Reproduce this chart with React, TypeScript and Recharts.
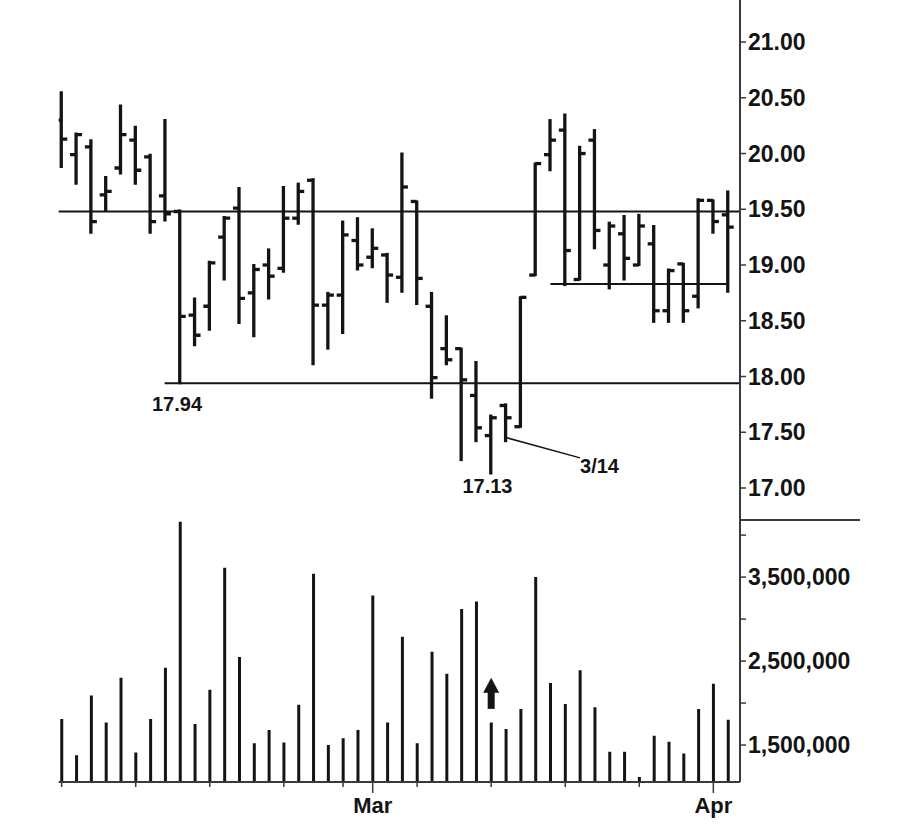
import React from "react";
import {
  ComposedChart,
  Bar,
  XAxis,
  YAxis,
  ReferenceLine,
  ReferenceDot,
} from "recharts";

// daily bars, Feb -> early Apr
const opens = [
  20.3, 19.99, 20.06, 19.63, 19.87, 20.12, 19.97, 19.62, 19.48, 18.55,
  18.63, 19.25, 19.51, 18.75, 19.0, 18.97, 19.42, 19.76, 18.64, 18.73,
  19.22, 19.07, 19.09, 18.89, 19.57, 18.63, 18.25, 18.25, 17.83, 17.47,
  17.74, 17.55, 18.91, 19.99, 20.21, 18.87, 20.12, 19.0, 19.28, 19.0,
  19.19, 18.59, 19.01, 18.72, 19.58, 19.45,
];
const highs = [
  20.55, 20.18, 20.12, 19.79, 20.43, 20.24, 19.99, 20.3, 19.49, 18.7,
  19.03, 19.43, 19.69, 19.0, 19.14, 19.7, 19.73, 19.77, 18.75, 19.39,
  19.42, 19.32, 19.1, 20.0, 19.57, 18.75, 18.54, 18.25, 18.13, 17.65,
  17.75, 18.71, 19.91, 20.3, 20.35, 20.06, 20.21, 19.38, 19.44, 19.45,
  19.35, 18.96, 19.01, 19.59, 19.58, 19.66,
];
const lows = [
  19.88, 19.73, 19.29, 19.49, 19.82, 19.73, 19.29, 19.4, 17.94, 18.28,
  18.42, 18.87, 18.48, 18.36, 18.7, 18.94, 19.37, 18.11, 18.25, 18.39,
  18.96, 18.98, 18.67, 18.76, 18.65, 17.81, 18.11, 17.25, 17.42, 17.13,
  17.42, 17.55, 18.91, 19.85, 18.82, 18.87, 19.15, 18.79, 18.87, 19.0,
  18.49, 18.49, 18.49, 18.62, 19.29, 18.76,
];
const closes = [
  20.13, 20.17, 19.39, 19.66, 20.17, 19.85, 19.39, 19.46, 18.54, 18.37,
  19.02, 19.42, 18.7, 18.96, 18.9, 19.42, 19.66, 18.64, 18.73, 19.27,
  19.0, 19.15, 18.91, 19.7, 18.88, 17.99, 18.15, 17.97, 17.54, 17.63,
  17.63, 18.71, 19.91, 20.12, 19.13, 20.0, 19.31, 19.35, 19.06, 19.35,
  18.59, 18.95, 18.59, 19.58, 19.39, 19.34,
];
const volumes = [
  1810000, 1380000, 2090000, 1770000, 2300000, 1410000, 1810000, 2420000, 4160000, 1750000,
  2160000, 3610000, 2550000, 1520000, 1680000, 1530000, 1980000, 3540000, 1500000, 1580000,
  1680000, 3280000, 1770000, 2790000, 1520000, 2610000, 2350000, 3120000, 3210000, 1770000,
  1690000, 1930000, 3500000, 2240000, 1990000, 2390000, 1950000, 1420000, 1420000, 1120000,
  1610000, 1540000, 1400000, 1930000, 2230000, 1800000,
];

const priceTicks = [17, 17.5, 18, 18.5, 19, 19.5, 20, 20.5, 21];
const volumeTicks = [1500000, 2000000, 2500000, 3000000, 3500000, 4000000];
const volumeLabelled = [1500000, 2500000, 3500000];
const weekTicks = [0, 5, 10, 15, 19, 21, 24, 29, 34, 39, 44];
const monthLabels: Record<number, string> = { 21: "Mar", 44: "Apr" };

const resistance = 19.48;
const support = { from: 6.95, value: 17.94 };
const rangeLow = { from: 33, to: 45, value: 18.83 };
const leader = { from: { x: 30.07, y: 17.45 }, to: { x: 35, y: 17.27 } };
const notes = [
  { text: "17.94", x: 7.79, y: 17.94 },
  { text: "17.13", x: 28.75, y: 17.13 },
];
const dateNote = { text: "3/14", x: 35, y: 17.27 };
const arrowAt = { x: 29, y: 2300000 };

const data = opens.map((o, i) => ({
  i,
  o,
  h: highs[i],
  l: lows[i],
  c: closes[i],
  v: volumes[i],
}));

const X_DOMAIN: [number, number] = [-0.2, 45.8];
const INK = "#141414";
const AXIS = "#3a3a3a";
const FONT = "'Liberation Sans', Arial, Helvetica, sans-serif";

function OhlcShape(props: any) {
  const { x, y, width, height, payload } = props;
  const top = Math.min(y, y + height);
  const h = Math.abs(height);
  const cx = x + width / 2;
  const span = payload.h - payload.l || 1;
  const yOf = (v: number) => top + ((payload.h - v) / span) * h;
  return (
    <g stroke={INK} strokeWidth={3.3}>
      <line x1={cx} x2={cx} y1={top - 1} y2={top + h + 1} />
      <line x1={cx - 6} x2={cx} y1={yOf(payload.o)} y2={yOf(payload.o)} />
      <line x1={cx} x2={cx + 6} y1={yOf(payload.c)} y2={yOf(payload.c)} />
    </g>
  );
}

function DateTick(props: any) {
  const { x, y, payload } = props;
  const label = monthLabels[payload.value];
  return (
    <g>
      <line x1={x} x2={x} y1={y} y2={y + (label ? 11 : 5)} stroke={AXIS} strokeWidth={1.5} />
      {label && (
        <text x={x} y={y + 31} textAnchor="middle" fontSize={22} fontWeight={700} fill={INK} fontFamily={FONT}>
          {label}
        </text>
      )}
    </g>
  );
}

const axisTick = { fontSize: 23, fontWeight: 700, fill: INK, fontFamily: FONT };

export default function App() {
  return (
    <div style={{ position: "absolute", left: 0, top: 0, width: 900, height: 832, background: "#fff" }}>
      {/* 株価パネル */}
      <ComposedChart width={900} height={520} data={data} margin={{ top: 0, right: 0, bottom: 0, left: 58.7 }}>
        <XAxis dataKey="i" type="number" domain={X_DOMAIN} hide allowDataOverflow />
        <YAxis
          orientation="right"
          width={160}
          domain={[16.713, 21.377]}
          ticks={priceTicks}
          allowDataOverflow
          tickFormatter={(v: number) => v.toFixed(2)}
          axisLine={{ stroke: AXIS, strokeWidth: 2 }}
          tickLine={{ stroke: AXIS, strokeWidth: 1.5 }}
          tickSize={6}
          tickMargin={2}
          tick={axisTick}
        />
        <ReferenceLine y={resistance} stroke={INK} strokeWidth={2} />
        <ReferenceLine
          segment={[{ x: support.from, y: support.value }, { x: X_DOMAIN[1], y: support.value }]}
          stroke={INK}
          strokeWidth={2}
        />
        <ReferenceLine
          segment={[{ x: rangeLow.from, y: rangeLow.value }, { x: rangeLow.to, y: rangeLow.value }]}
          stroke={INK}
          strokeWidth={2}
        />
        <ReferenceLine segment={[leader.from, leader.to]} stroke={INK} strokeWidth={1.5} />
        <Bar dataKey={(d: any) => [d.l, d.h]} shape={OhlcShape} barSize={10} isAnimationActive={false} />
        {notes.map((n) => (
          <ReferenceDot
            key={n.text}
            x={n.x}
            y={n.y}
            r={0}
            shape={(p: any) => (
              <text x={p.cx} y={p.cy + (n.text === "17.94" ? 28 : 19)} textAnchor="middle" fontSize={20} fontWeight={700} fill={INK} fontFamily={FONT}>
                {n.text}
              </text>
            )}
          />
        ))}
        <ReferenceDot
          x={dateNote.x}
          y={dateNote.y}
          r={0}
          shape={(p: any) => (
            <text x={p.cx} y={p.cy + 15} textAnchor="start" fontSize={20} fontWeight={700} fill={INK} fontFamily={FONT}>
              {dateNote.text}
            </text>
          )}
        />
      </ComposedChart>

      {/* 出来高パネルの上端 */}
      <div style={{ position: "absolute", left: 740, top: 519, width: 120, height: 2, background: AXIS }} />

      {/* 出来高パネル */}
      <ComposedChart width={900} height={312} data={data} margin={{ top: 0, right: 0, bottom: 0, left: 58.7 }}>
        <XAxis
          dataKey="i"
          type="number"
          domain={X_DOMAIN}
          allowDataOverflow
          ticks={weekTicks}
          interval={0}
          height={50}
          tickLine={false}
          tickSize={0}
          tickMargin={0}
          axisLine={{ stroke: AXIS, strokeWidth: 2 }}
          tick={DateTick}
        />
        <YAxis
          orientation="right"
          width={160}
          domain={[1060000, 4180000]}
          ticks={volumeTicks}
          allowDataOverflow
          tickFormatter={(v: number) => (volumeLabelled.includes(v) ? v.toLocaleString("en-US") : "")}
          axisLine={{ stroke: AXIS, strokeWidth: 2 }}
          tickLine={{ stroke: AXIS, strokeWidth: 1.5 }}
          tickSize={6}
          tickMargin={2}
          tick={axisTick}
        />
        <Bar dataKey="v" fill={INK} barSize={3} isAnimationActive={false} />
        <ReferenceDot
          x={arrowAt.x}
          y={arrowAt.y}
          r={0}
          shape={(p: any) => (
            <g fill={INK}>
              <path d={`M ${p.cx} ${p.cy} L ${p.cx + 8} ${p.cy + 15} L ${p.cx - 8} ${p.cy + 15} Z`} />
              <rect x={p.cx - 3.5} y={p.cy + 14} width={7} height={17} />
            </g>
          )}
        />
      </ComposedChart>
    </div>
  );
}
